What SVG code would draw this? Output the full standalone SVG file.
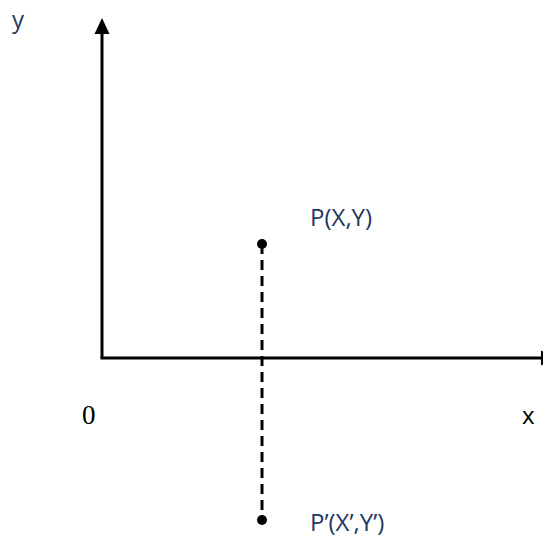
<svg xmlns="http://www.w3.org/2000/svg" width="543" height="542" viewBox="0 0 543 542">
<style>
.lbl{font-family:"Open Sans","Noto Sans","Liberation Sans",sans-serif;font-size:24px;fill:#1f3864}
.axis{stroke:#000;stroke-width:3;fill:none}
.head{fill:#000}
</style>
<rect width="543" height="542" fill="#fff"/>
<g id="connectors">
<path class="axis" d="M102,358 V30"/>
<polygon class="head" points="102,18 109.5,34 94.5,34"/>
<path class="axis" d="M100.5,358 H545"/>
<polygon class="head" points="557,358 541,350.5 541,365.5"/>
<line x1="262" y1="244" x2="262" y2="520" stroke="#000" stroke-width="3" stroke-dasharray="10,6"/>
</g>
<g id="P"><circle cx="262" cy="244" r="5" fill="#000"/><text class="lbl" x="310" y="226">P(X,Y)</text></g>
<g id="P2"><circle cx="262" cy="520" r="5" fill="#000"/><text class="lbl" x="310" y="531">P’(X’,Y’)</text></g>
<g id="labels">
<text class="lbl" x="12" y="28">y</text>
<text x="82" y="424" font-family="Liberation Serif,serif" font-size="27" fill="#000">0</text>
<text x="522" y="424" font-family="Open Sans,Liberation Sans,sans-serif" font-size="24" fill="#000">x</text>
</g>
</svg>
